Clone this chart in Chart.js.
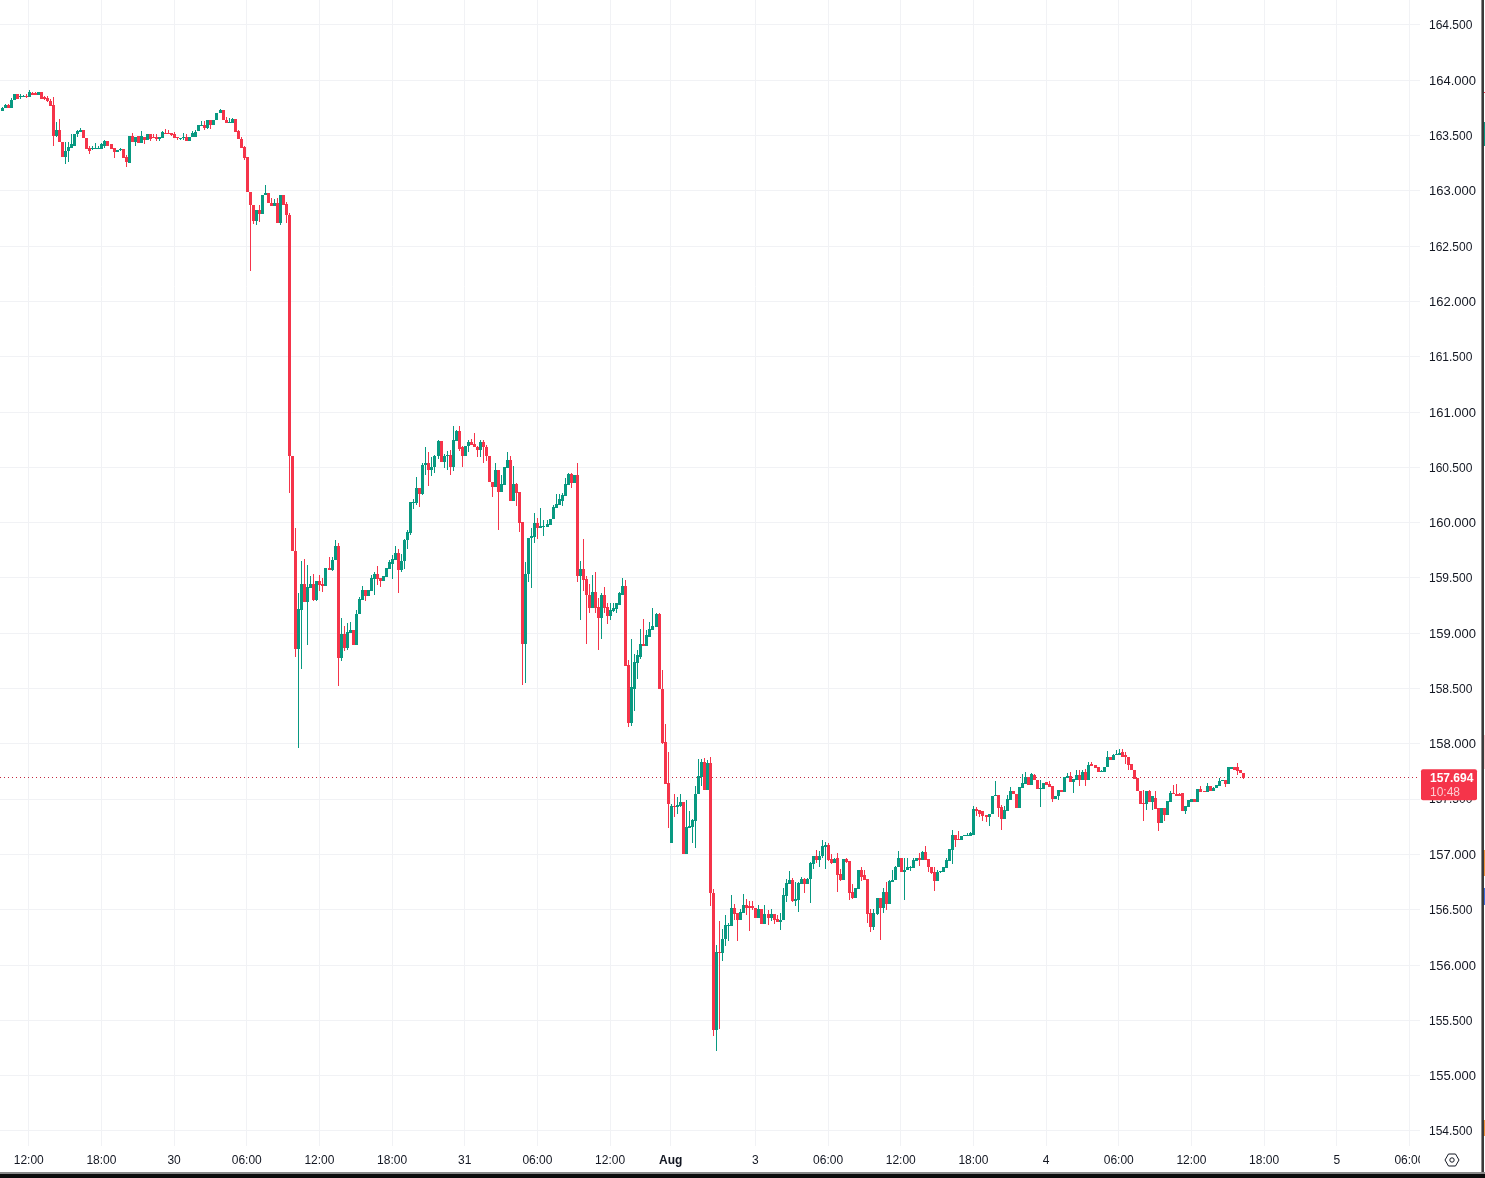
<!DOCTYPE html>
<html>
<head>
<meta charset="utf-8">
<title>Candles</title>
<script src="https://cdn.jsdelivr.net/npm/chart.js@4/dist/chart.umd.min.js"></script>
<style>
  html, body { margin: 0; padding: 0; background: #fff; overflow: hidden; }
  #wrap { position: relative; width: 1485px; height: 1178px; }
  #chart { position: absolute; left: 0; top: 0; }
  #edgeRight { position: absolute; left: 1481px; top: 0; width: 1px; height: 1174px; background: #8a8a8a; border-right: 2px solid #3a3a3a; }
  #edgeBottom { position: absolute; left: 0; top: 1172px; width: 1485px; height: 6px; background: #0c0c0c; border-top: 2px solid #8a8a8a; box-sizing: border-box; }
  .sliver { position: absolute; left: 1484px; width: 1px; }
</style>
</head>
<body>
<div id="wrap">
  <canvas id="chart" width="1481" height="1172"></canvas>
  <div id="edgeRight"></div>
  <div id="edgeBottom"></div>
  <div class="sliver" style="top:92px;height:1px;background:#f5344a"></div>
  <div class="sliver" style="top:122px;height:24px;background:#089981"></div>
  <div class="sliver" style="top:735px;height:34px;background:#f7c4c9"></div>
  <div class="sliver" style="top:850px;height:26px;background:#f0933a"></div>
  <div class="sliver" style="top:888px;height:17px;background:#3f6fe0"></div>
  <div class="sliver" style="top:1120px;height:16px;background:#f0933a"></div>
</div>
<script>
const opens = [
  163.72,163.75,163.78,163.75,163.82,163.88,163.85,163.85,163.86,163.85,
  163.885,163.885,163.87,163.89,163.845,163.84,163.815,163.775,163.50,163.55,
  163.44,163.31,163.36,163.39,163.41,163.51,163.53,163.55,163.48,163.39,
  163.375,163.38,163.38,163.38,163.41,163.45,163.42,163.39,163.35,163.37,
  163.38,163.31,163.25,163.50,163.44,163.50,163.43,163.49,163.46,163.51,
  163.49,163.49,163.47,163.48,163.52,163.52,163.52,163.51,163.49,163.47,
  163.475,163.49,163.45,163.49,163.49,163.54,163.59,163.60,163.57,163.64,
  163.60,163.64,163.70,163.73,163.64,163.61,163.61,163.65,163.54,163.47,
  163.40,163.31,162.99,162.87,162.73,162.83,162.79,162.96,162.98,162.89,
  162.865,162.89,162.71,162.96,162.88,162.78,160.60,159.74,158.86,159.21,
  159.45,159.28,159.41,159.45,159.30,159.47,159.445,159.43,159.59,159.57,
  159.66,159.79,158.78,158.99,158.87,159.00,159.03,158.89,159.17,159.30,
  159.39,159.34,159.38,159.49,159.54,159.50,159.47,159.51,159.58,159.63,
  159.66,159.73,159.57,159.65,159.84,159.91,160.18,160.18,160.31,160.26,
  160.52,160.54,160.48,160.50,160.60,160.74,160.55,160.60,160.61,160.50,
  160.74,160.83,160.68,160.60,160.69,160.73,160.71,160.685,160.66,160.73,
  160.68,160.60,160.37,160.32,160.48,160.28,160.34,160.49,160.57,160.20,
  160.35,160.28,160.01,158.90,159.54,159.86,159.87,160.00,159.95,159.96,
  159.96,159.98,160.03,160.13,160.16,160.20,160.24,160.34,160.44,160.36,
  160.43,159.52,159.58,159.49,159.35,159.23,159.37,159.24,159.14,159.35,
  159.24,159.16,159.20,159.22,159.26,159.35,159.43,158.71,158.19,158.50,
  158.73,158.79,158.90,158.885,158.97,159.03,159.06,159.17,158.50,158.02,
  157.65,157.10,157.44,157.43,157.44,157.47,157.00,157.24,157.25,157.30,
  157.55,157.70,157.84,157.58,157.83,156.65,155.41,156.12,156.11,156.24,
  156.35,156.35,156.52,156.47,156.41,156.47,156.54,156.53,156.53,156.52,
  156.43,156.51,156.37,156.46,156.43,156.46,156.415,156.39,156.41,156.62,
  156.73,156.77,156.58,156.59,156.73,156.78,156.73,156.78,156.91,156.985,
  156.95,156.985,157.07,157.085,156.96,156.92,156.97,156.82,156.77,156.96,
  156.94,156.66,156.61,156.69,156.86,156.81,156.78,156.47,156.34,156.46,
  156.61,156.52,156.66,156.55,156.75,156.77,156.89,156.97,156.84,156.86,
  156.88,156.88,156.94,156.97,156.95,157.02,156.96,156.89,156.84,156.76,
  156.84,156.84,156.88,156.94,157.04,157.175,157.14,157.13,157.165,157.17,
  157.17,157.18,157.41,157.40,157.39,157.355,157.335,157.365,157.53,157.54,
  157.425,157.32,157.39,157.49,157.57,157.55,157.42,157.60,157.64,157.70,
  157.63,157.72,157.67,157.59,157.59,157.655,157.64,157.62,157.50,157.53,
  157.58,157.565,157.695,157.71,157.655,157.675,157.72,157.675,157.745,157.675,
  157.82,157.81,157.79,157.745,157.745,157.79,157.88,157.855,157.895,157.90,
  157.925,157.90,157.88,157.82,157.765,157.69,157.575,157.46,157.455,157.575,
  157.475,157.515,157.42,157.285,157.42,157.36,157.47,157.555,157.55,157.55,
  157.555,157.39,157.43,157.47,157.50,157.47,157.59,157.575,157.565,157.62,
  157.575,157.60,157.62,157.66,157.675,157.635,157.775,157.79,157.79,157.765,
  157.74
];
const highs = [
  163.76,163.79,163.79,163.84,163.88,163.88,163.88,163.87,163.88,163.91,
  163.89,163.89,163.89,163.89,163.86,163.86,163.83,163.85,163.62,163.65,
  163.44,163.44,163.44,163.51,163.51,163.55,163.57,163.55,163.48,163.41,
  163.41,163.43,163.41,163.43,163.46,163.45,163.42,163.39,163.37,163.39,
  163.38,163.32,163.50,163.52,163.49,163.50,163.54,163.49,163.51,163.51,
  163.51,163.51,163.49,163.54,163.56,163.55,163.52,163.53,163.49,163.48,
  163.52,163.51,163.49,163.54,163.55,163.60,163.63,163.63,163.64,163.64,
  163.64,163.70,163.74,163.73,163.67,163.66,163.66,163.65,163.55,163.49,
  163.41,163.31,162.99,162.87,162.83,162.87,162.96,163.05,162.98,162.94,
  162.93,162.94,162.96,162.96,162.90,162.80,160.60,159.95,159.36,159.65,
  159.67,159.62,159.52,159.54,159.47,159.53,159.50,159.59,159.69,159.69,
  159.84,159.82,159.14,159.07,159.09,159.10,159.03,159.21,159.33,159.43,
  159.39,159.39,159.53,159.55,159.61,159.50,159.52,159.59,159.66,159.71,
  159.79,159.76,159.72,159.85,159.93,160.19,160.21,160.41,160.31,160.54,
  160.68,160.64,160.59,160.61,160.75,160.74,160.62,160.65,160.66,160.87,
  160.84,160.87,160.69,160.69,160.75,160.76,160.81,160.69,160.75,160.75,
  160.70,160.60,160.37,160.54,160.48,160.43,160.50,160.64,160.60,160.51,
  160.36,160.28,160.01,159.64,159.86,159.95,160.09,160.04,160.13,160.02,
  160.02,160.03,160.16,160.26,160.26,160.27,160.40,160.45,160.45,160.43,
  160.54,159.65,159.85,159.52,159.45,159.53,159.55,159.32,159.36,159.42,
  159.27,159.27,159.27,159.27,159.37,159.50,159.48,158.76,158.95,158.81,
  158.85,159.04,159.13,159.03,159.10,159.23,159.18,159.18,158.67,158.18,
  157.93,157.46,157.55,157.52,157.55,157.47,157.49,157.39,157.32,157.62,
  157.86,157.86,157.87,157.85,157.88,156.69,156.18,156.40,156.33,156.45,
  156.38,156.63,156.55,156.47,156.51,156.64,156.60,156.58,156.58,156.52,
  156.54,156.51,156.54,156.50,156.51,156.46,156.45,156.47,156.70,156.78,
  156.85,156.79,156.75,156.75,156.80,156.79,156.79,156.93,156.99,157.04,
  157.03,157.13,157.11,157.10,157.00,156.97,157.01,156.87,156.96,156.97,
  156.94,156.73,156.70,156.86,156.89,156.86,156.78,156.51,156.51,156.61,
  156.61,156.70,156.75,156.77,156.86,156.90,157.03,156.97,156.97,156.97,
  156.90,156.97,156.97,157.01,157.03,157.08,156.96,156.89,156.89,156.86,
  156.85,156.89,156.97,157.05,157.22,157.175,157.21,157.17,157.18,157.19,
  157.20,157.44,157.43,157.40,157.39,157.355,157.37,157.53,157.66,157.54,
  157.45,157.44,157.54,157.61,157.57,157.55,157.61,157.73,157.745,157.70,
  157.735,157.73,157.67,157.67,157.65,157.655,157.66,157.62,157.53,157.58,
  157.58,157.70,157.74,157.75,157.68,157.76,157.76,157.76,157.77,157.835,
  157.835,157.81,157.79,157.76,157.79,157.94,157.88,157.91,157.945,157.95,
  157.95,157.925,157.88,157.82,157.765,157.69,157.575,157.58,157.575,157.58,
  157.53,157.575,157.42,157.42,157.42,157.485,157.575,157.63,157.635,157.56,
  157.555,157.44,157.49,157.50,157.50,157.59,157.62,157.575,157.645,157.62,
  157.61,157.63,157.69,157.675,157.675,157.79,157.79,157.795,157.83,157.765,
  157.74
];
const lows = [
  163.72,163.75,163.75,163.75,163.82,163.83,163.83,163.85,163.84,163.85,
  163.87,163.87,163.87,163.83,163.82,163.80,163.77,163.41,163.49,163.44,
  163.31,163.24,163.26,163.39,163.41,163.49,163.53,163.48,163.38,163.33,
  163.37,163.38,163.38,163.38,163.39,163.41,163.38,163.30,163.35,163.36,
  163.30,163.22,163.25,163.44,163.41,163.43,163.43,163.42,163.46,163.45,
  163.48,163.45,163.45,163.48,163.51,163.51,163.50,163.48,163.46,163.46,
  163.46,163.45,163.45,163.49,163.49,163.54,163.59,163.55,163.56,163.56,
  163.60,163.64,163.70,163.64,163.61,163.61,163.61,163.53,163.47,163.39,
  163.28,162.99,162.28,162.70,162.69,162.72,162.79,162.96,162.89,162.86,
  162.865,162.71,162.69,162.87,162.71,160.27,159.74,158.79,157.96,158.68,
  159.28,158.89,159.41,159.29,159.29,159.38,159.37,159.43,159.57,159.56,
  159.66,158.52,158.75,158.84,158.85,159.00,158.89,158.89,159.17,159.30,
  159.29,159.34,159.38,159.35,159.44,159.42,159.47,159.51,159.58,159.49,
  159.66,159.36,159.55,159.58,159.76,159.89,160.12,160.16,160.14,160.25,
  160.43,160.33,160.42,160.45,160.58,160.55,160.49,160.48,160.43,160.47,
  160.74,160.65,160.50,160.60,160.64,160.70,160.68,160.595,160.59,160.54,
  160.56,160.37,160.23,160.32,159.93,160.28,160.34,160.49,160.20,160.20,
  160.15,159.92,158.53,158.55,159.46,159.41,159.82,159.85,159.95,159.88,
  159.96,159.98,160.03,160.13,160.16,160.15,160.24,160.34,160.31,160.36,
  159.46,159.12,159.38,158.90,159.18,159.23,159.18,158.85,158.95,159.18,
  159.08,159.12,159.19,159.18,159.26,159.35,158.70,158.15,158.16,158.30,
  158.59,158.77,158.885,158.885,158.97,159.03,159.06,158.50,158.00,157.64,
  157.24,157.10,157.34,157.37,157.43,157.00,157.00,157.24,157.10,157.06,
  157.55,157.62,157.58,157.58,156.53,155.36,155.22,155.42,156.04,156.17,
  156.22,156.35,156.41,156.22,156.41,156.47,156.45,156.31,156.50,156.43,
  156.43,156.37,156.37,156.36,156.40,156.37,156.39,156.32,156.41,156.57,
  156.73,156.57,156.53,156.48,156.73,156.65,156.73,156.56,156.87,156.92,
  156.89,156.97,156.87,156.94,156.91,156.92,156.66,156.76,156.77,156.92,
  156.59,156.60,156.61,156.69,156.76,156.77,156.38,156.30,156.32,156.45,
  156.23,156.47,156.50,156.55,156.75,156.77,156.89,156.84,156.59,156.86,
  156.85,156.88,156.94,156.90,156.95,156.95,156.84,156.82,156.67,156.76,
  156.83,156.84,156.88,156.94,156.91,157.07,157.13,157.13,157.165,157.17,
  157.17,157.18,157.35,157.335,157.30,157.29,157.26,157.365,157.53,157.335,
  157.22,157.32,157.39,157.49,157.55,157.42,157.42,157.60,157.64,157.63,
  157.63,157.67,157.59,157.43,157.59,157.63,157.61,157.47,157.50,157.49,
  157.565,157.565,157.695,157.655,157.555,157.675,157.62,157.675,157.62,157.675,
  157.80,157.785,157.745,157.745,157.745,157.79,157.855,157.855,157.895,157.90,
  157.88,157.82,157.76,157.76,157.685,157.57,157.455,157.30,157.40,157.475,
  157.40,157.41,157.21,157.285,157.305,157.36,157.47,157.545,157.53,157.53,
  157.39,157.37,157.43,157.47,157.47,157.47,157.565,157.565,157.565,157.575,
  157.575,157.60,157.62,157.66,157.61,157.635,157.775,157.765,157.72,157.735,
  157.685
];
const closes = [
  163.75,163.78,163.75,163.82,163.88,163.83,163.86,163.86,163.85,163.89,
  163.87,163.87,163.89,163.83,163.83,163.81,163.77,163.50,163.55,163.44,
  163.31,163.36,163.40,163.42,163.51,163.54,163.55,163.48,163.38,163.36,
  163.38,163.39,163.39,163.42,163.45,163.41,163.38,163.35,163.37,163.38,
  163.30,163.26,163.50,163.44,163.49,163.43,163.50,163.46,163.51,163.47,
  163.48,163.47,163.49,163.53,163.51,163.51,163.505,163.48,163.48,163.48,
  163.49,163.45,163.49,163.52,163.53,163.60,163.60,163.57,163.64,163.60,
  163.64,163.70,163.73,163.64,163.61,163.62,163.65,163.53,163.47,163.39,
  163.30,162.99,162.87,162.73,162.83,162.79,162.96,162.98,162.89,162.865,
  162.89,162.71,162.96,162.875,162.78,160.60,159.74,158.86,159.22,159.45,
  159.28,159.42,159.45,159.30,159.47,159.44,159.43,159.59,159.57,159.66,
  159.79,158.78,158.99,158.87,159.01,159.03,158.89,159.17,159.31,159.39,
  159.34,159.39,159.50,159.54,159.49,159.47,159.52,159.59,159.64,159.67,
  159.73,159.57,159.65,159.84,159.92,160.19,160.19,160.31,160.26,160.52,
  160.54,160.48,160.50,160.60,160.74,160.55,160.60,160.61,160.50,160.75,
  160.83,160.67,160.60,160.69,160.73,160.70,160.68,160.66,160.73,160.68,
  160.60,160.37,160.32,160.48,160.28,160.35,160.50,160.57,160.20,160.35,
  160.27,160.00,158.90,159.54,159.86,159.88,160.00,159.955,159.97,159.97,
  159.985,160.03,160.14,160.17,160.21,160.25,160.35,160.44,160.36,160.43,
  159.52,159.58,159.48,159.35,159.23,159.37,159.23,159.14,159.35,159.23,
  159.16,159.21,159.23,159.27,159.36,159.43,158.70,158.19,158.51,158.74,
  158.80,158.90,158.885,158.98,159.04,159.07,159.17,158.50,158.01,157.64,
  157.46,157.44,157.43,157.45,157.47,157.00,157.25,157.26,157.31,157.55,
  157.71,157.84,157.58,157.83,156.65,155.41,156.12,156.11,156.24,156.36,
  156.36,156.52,156.46,156.41,156.48,156.54,156.52,156.52,156.515,156.43,
  156.51,156.37,156.46,156.43,156.46,156.41,156.39,156.41,156.63,156.74,
  156.77,156.58,156.60,156.74,156.78,156.73,156.78,156.92,156.985,156.95,
  156.99,157.08,157.09,156.95,156.92,156.96,156.81,156.77,156.96,156.93,
  156.65,156.61,156.70,156.86,156.80,156.77,156.46,156.34,156.47,156.61,
  156.52,156.66,156.55,156.76,156.77,156.89,156.97,156.84,156.86,156.885,
  156.89,156.95,156.97,156.95,157.02,156.95,156.885,156.83,156.76,156.84,
  156.85,156.885,156.95,157.05,157.175,157.13,157.13,157.17,157.175,157.18,
  157.19,157.41,157.39,157.37,157.35,157.335,157.37,157.53,157.54,157.42,
  157.32,157.40,157.50,157.57,157.55,157.42,157.61,157.645,157.70,157.63,
  157.73,157.67,157.59,157.60,157.65,157.63,157.61,157.50,157.53,157.58,
  157.565,157.70,157.71,157.655,157.68,157.72,157.675,157.745,157.675,157.81,
  157.80,157.785,157.745,157.757,157.79,157.88,157.855,157.90,157.91,157.92,
  157.88,157.885,157.81,157.76,157.685,157.57,157.455,157.455,157.575,157.475,
  157.53,157.41,157.285,157.42,157.36,157.48,157.555,157.545,157.53,157.53,
  157.39,157.44,157.49,157.50,157.47,157.59,157.565,157.565,157.62,157.575,
  157.605,157.63,157.665,157.675,157.635,157.79,157.79,157.765,157.757,157.735,
  157.694
];

const slotCount = 469;
const tickSlots = [9, 33, 57, 81, 105, 129, 153, 177, 201, 221, 249, 273, 297, 321, 345, 369, 393, 417, 441, 465];
const tickTexts = ["12:00", "18:00", "30", "06:00", "12:00", "18:00", "31", "06:00", "12:00", "Aug", "3", "06:00", "12:00", "18:00", "4", "06:00", "12:00", "18:00", "5", "06:00"];
const lastPrice = 157.694;
const lastPriceText = "157.694";
const countdownText = "10:48";

const UP = "#089981";
const DOWN = "#f5344a";
const GRID = "#f1f2f5";
const TEXT = "#131722";
const FONT = "'Liberation Sans', Arial, sans-serif";

const labels = new Array(slotCount).fill("");
tickSlots.forEach((s, i) => { labels[s] = tickTexts[i]; });
const candleColors = opens.map((o, i) => closes[i] >= o ? UP : DOWN);

// snap bars to whole pixels so they stay crisp like the original
const snapBars = {
  id: "snapBars",
  beforeDatasetsDraw(chart) {
    const yScale = chart.scales.y;
    const ctx = chart.ctx;
    ctx.save();
    ctx.strokeStyle = "#c4283e";
    ctx.lineWidth = 1;
    ctx.setLineDash([1, 3]);
    const py = Math.floor(yScale.getPixelForValue(lastPrice)) + 0.5;
    ctx.beginPath();
    ctx.moveTo(0, py);
    ctx.lineTo(chart.chartArea.right, py);
    ctx.stroke();
    ctx.restore();
    chart.data.datasets.forEach((d, di) => {
      chart.getDatasetMeta(di).data.forEach((bar) => {
        bar.x = Math.round(bar.x) + 0.5;
        const top = Math.round(bar.y);
        let bottom = Math.round(bar.base);
        if (top === bottom) bottom = top + 1;
        bar.y = top;
        bar.base = bottom;
      });
    });
  }
};

// price tag, clipped time label and the settings icon
const overlays = {
  id: "overlays",
  afterDraw(chart) {
    const ctx = chart.ctx;
    const py = chart.scales.y.getPixelForValue(lastPrice);
    ctx.save();
    ctx.fillStyle = "#fff";
    ctx.fillRect(chart.chartArea.right, chart.chartArea.bottom + 1, 20, 25);

    ctx.fillStyle = DOWN;
    ctx.beginPath();
    ctx.roundRect(1421, py - 8.5, 56, 31, 2);
    ctx.fill();
    ctx.textBaseline = "middle";
    ctx.textAlign = "left";
    ctx.fillStyle = "#fff";
    ctx.font = "bold 12px " + FONT;
    ctx.fillText(lastPriceText, 1430, py + 1);
    ctx.fillStyle = "rgba(255,255,255,0.75)";
    ctx.font = "12px " + FONT;
    ctx.fillText(countdownText, 1430, py + 15);

    // settings hexagon
    const cx = 1452, cy = 1160;
    ctx.strokeStyle = TEXT;
    ctx.lineWidth = 1;
    ctx.beginPath();
    ctx.moveTo(cx - 7, cy);
    ctx.lineTo(cx - 3.5, cy - 6);
    ctx.lineTo(cx + 3.5, cy - 6);
    ctx.lineTo(cx + 7, cy);
    ctx.lineTo(cx + 3.5, cy + 6);
    ctx.lineTo(cx - 3.5, cy + 6);
    ctx.closePath();
    ctx.stroke();
    ctx.beginPath();
    ctx.arc(cx, cy, 2.2, 0, Math.PI * 2);
    ctx.stroke();
    ctx.restore();
  }
};

// drop the label overhang Chart.js reserves around the plot
function noPadding(axis) {
  axis.paddingTop = 0;
  axis.paddingBottom = 0;
  axis.paddingLeft = 0;
  axis.paddingRight = 0;
}

new Chart(document.getElementById("chart").getContext("2d"), {
  type: "bar",
  data: {
    labels: labels,
    datasets: [
      {
        label: "wick",
        data: lows.map((l, i) => [l, highs[i]]),
        backgroundColor: candleColors,
        barThickness: 1,
        borderWidth: 0,
        inflateAmount: 0,
        grouped: false,
        order: 2
      },
      {
        label: "body",
        data: opens.map((o, i) => [o, closes[i]]),
        backgroundColor: candleColors,
        barThickness: 3,
        minBarLength: 1,
        borderWidth: 0,
        inflateAmount: 0,
        grouped: false,
        order: 1
      }
    ]
  },
  options: {
    responsive: false,
    animation: false,
    devicePixelRatio: 1,
    layout: { padding: 0 },
    plugins: { legend: { display: false }, tooltip: { enabled: false } },
    scales: {
      x: {
        type: "category",
        offset: true,
        afterBuildTicks: (axis) => { axis.ticks = axis.ticks.filter((t) => labels[t.value] !== ""); },
        afterFit: (axis) => { axis.height = 26; noPadding(axis); },
        grid: { color: GRID, drawTicks: false, offset: false },
        border: { display: false },
        ticks: {
          autoSkip: false,
          maxRotation: 0,
          padding: 7,
          color: TEXT,
          font: (c) => ({ family: FONT, size: 12, weight: c.tick && c.tick.label === "Aug" ? "bold" : "normal" })
        }
      },
      y: {
        position: "right",
        min: 154.364,
        max: 164.726,
        afterFit: (axis) => { axis.width = 61; noPadding(axis); },
        grid: { color: GRID, drawTicks: false },
        border: { display: false },
        ticks: {
          stepSize: 0.5,
          includeBounds: false,
          padding: 9,
          labelOffset: 1,
          color: TEXT,
          font: (c) => ({ family: FONT, size: c.tick && Number.isInteger(c.tick.value) ? 13 : 12 }),
          callback: (v) => v.toFixed(3)
        }
      }
    }
  },
  plugins: [snapBars, overlays]
});
</script>
</body>
</html>
